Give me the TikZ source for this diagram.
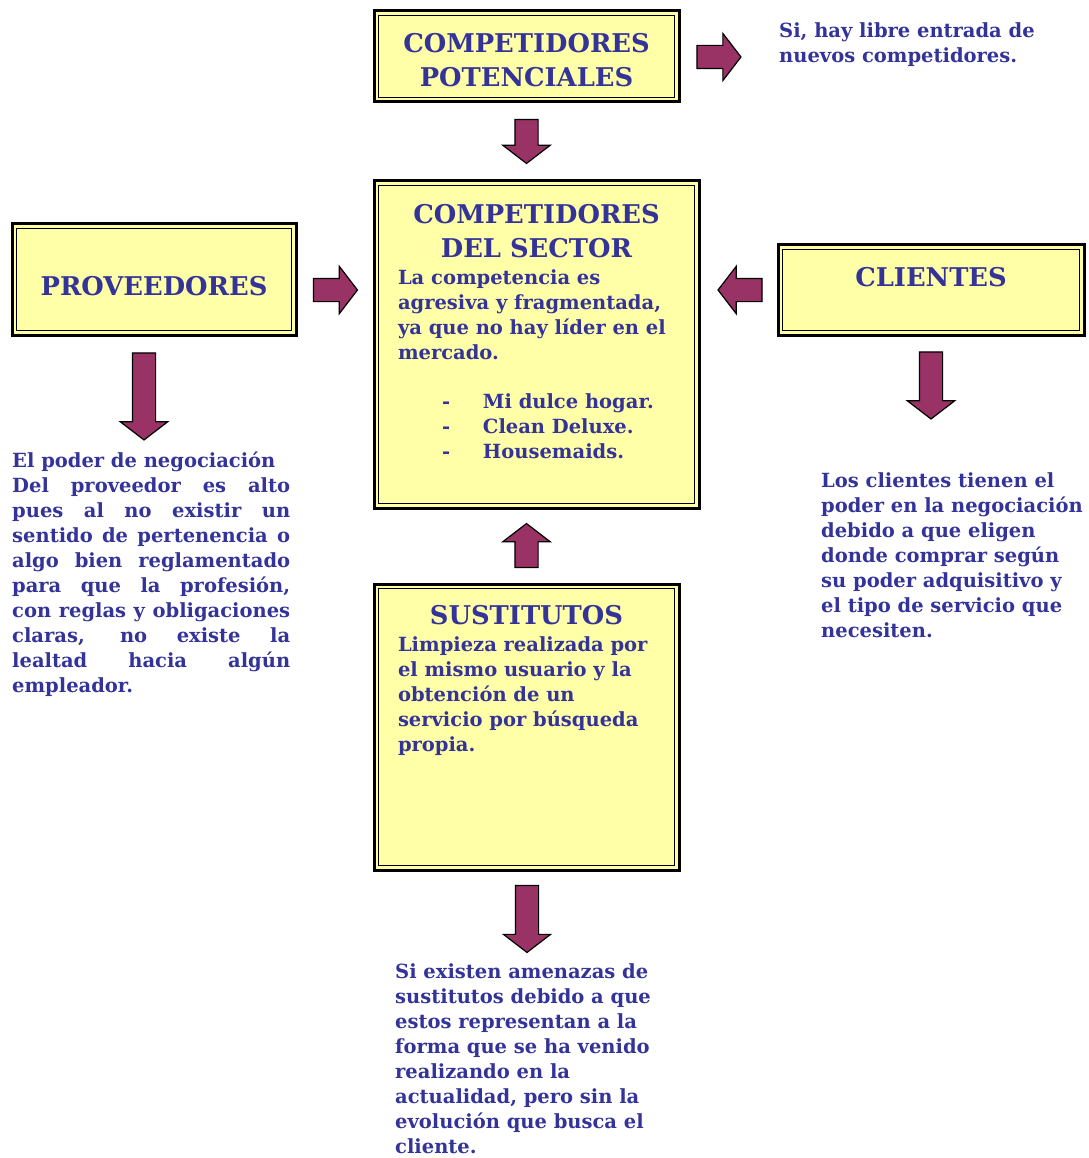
\documentclass[tikz,border=0pt]{standalone}
\usepackage{fontspec}
\setmainfont{DejaVu Serif}
\usetikzlibrary{shapes,arrows,positioning,calc}
\definecolor{boxyellow}{RGB}{255,255,168}
\definecolor{textblue}{RGB}{51,51,153}
\definecolor{arrowred}{RGB}{153,51,102}
\newcommand{\titlefont}{\bfseries\fontsize{25.8}{34}\selectfont}
\newcommand{\bodyfont}{\bfseries\fontsize{19.5}{25}\selectfont}
\tikzstyle{forcebox} = [rectangle, draw=black, line width=3pt, fill=boxyellow,
    text=textblue, font=\titlefont, align=center, inner sep=0pt,
    path picture={\draw[line width=1.2pt]
      ([shift={(4.2pt,-4.2pt)}]path picture bounding box.north west) rectangle
      ([shift={(-4.2pt,4.2pt)}]path picture bounding box.south east);}]
\tikzstyle{blockarrow} = [single arrow, draw=black, line width=1.2pt, fill=arrowred,
    minimum width=46pt, single arrow head extend=12pt, single arrow tip angle=105,
    inner xsep=0pt, inner ysep=11pt]
\tikzstyle{note} = [text=textblue, font=\bodyfont, inner sep=0pt, align=left,
    anchor=north west]

\begin{document}
\begin{tikzpicture}[x=1pt, y=-1pt]
    \useasboundingbox (0,0) rectangle (1088,1158);
    % Place nodes
    \node [forcebox, inner xsep=10pt, inner ysep=22.5pt] (potenciales) at (526.5,56.5)
        {\begin{minipage}[t][46pt][t]{285pt}
         \centering\titlefont COMPETIDORES\\POTENCIALES
         \end{minipage}};
    \node [forcebox, inner xsep=24pt, inner ysep=23pt] (sector) at (536.5,344.5)
        {\begin{minipage}[t][281pt][t]{277pt}
         \centering\titlefont COMPETIDORES\\DEL SECTOR\par
         \vspace{2pt}
         \raggedright\bodyfont La competencia es\\agresiva y fragmentada,\\ya que no hay líder en el\\mercado.\par
         \vspace{24pt}
         \hspace*{44pt}\makebox[41pt][l]{-}Mi dulce hogar.\\
         \hspace*{44pt}\makebox[41pt][l]{-}Clean Deluxe.\\
         \hspace*{44pt}\makebox[41pt][l]{-}Housemaids.
         \end{minipage}};
    \node [forcebox, minimum width=284pt, minimum height=111pt, text height=33pt] (proveedores) at (154,279.5)
        {PROVEEDORES};
    \node [forcebox, minimum width=306pt, minimum height=90pt, text depth=26pt] (clientes) at (931,290)
        {CLIENTES};
    \node [forcebox, inner xsep=24pt, inner ysep=21pt] (sustitutos) at (526.5,727)
        {\begin{minipage}[t][244pt][t]{257pt}
         \centering\titlefont SUSTITUTOS\par
         \vspace{2pt}
         \raggedright\bodyfont Limpieza realizada por\\el mismo usuario y la\\obtención de un\\servicio por búsqueda\\propia.
         \end{minipage}};
    % Texts
    \node [note] (entrada) at (779,22) {Si, hay libre entrada de\\nuevos competidores.};
    \node [note, text width=278pt, align=justify] (negociacion) at (12,452)
        {El poder de negociación\\
         Del proveedor es alto\linebreak
         pues al no existir un\linebreak
         sentido de pertenencia o\linebreak
         algo bien reglamentado\linebreak
         para que la profesión,\linebreak
         con reglas y obligaciones\linebreak
         claras, no existe la\linebreak
         lealtad hacia algún\linebreak
         empleador.};
    \node [note] (poder) at (821,472)
        {Los clientes tienen el\\poder en la negociación\\debido a que eligen\\donde comprar según\\su poder adquisitivo y\\el tipo de servicio que\\necesiten.};
    \node [note] (amenazas) at (395,963)
        {Si existen amenazas de\\sustitutos debido a que\\estos representan a la\\forma que se ha venido\\realizando en la\\actualidad, pero sin la\\evolución que busca el\\cliente.};
    % Draw arrows
    \node [blockarrow, minimum height=44pt] (a1) at (714.5,57) {};
    \node [blockarrow, minimum height=44pt, rotate=-90] (a2) at ($(potenciales.south)!0.5!(potenciales.south|-sector.north)+(0,-4.5)$) {};
    \node [blockarrow, minimum height=44pt] (a3) at (331,290) {};
    \node [blockarrow, minimum height=44pt, rotate=180] (a4) at (744.5,290) {};
    \node [blockarrow, minimum height=87pt, rotate=-90] (a5) at (144,392) {};
    \node [blockarrow, minimum height=67pt, rotate=-90] (a6) at (931,381) {};
    \node [blockarrow, minimum height=44pt, rotate=90] (a7) at ($(sustitutos.north)!0.5!(sustitutos.north|-sector.south)+(0,4)$) {};
    \node [blockarrow, minimum height=67pt, rotate=-90] (a8) at (527,914.5) {};
\end{tikzpicture}
\end{document}
